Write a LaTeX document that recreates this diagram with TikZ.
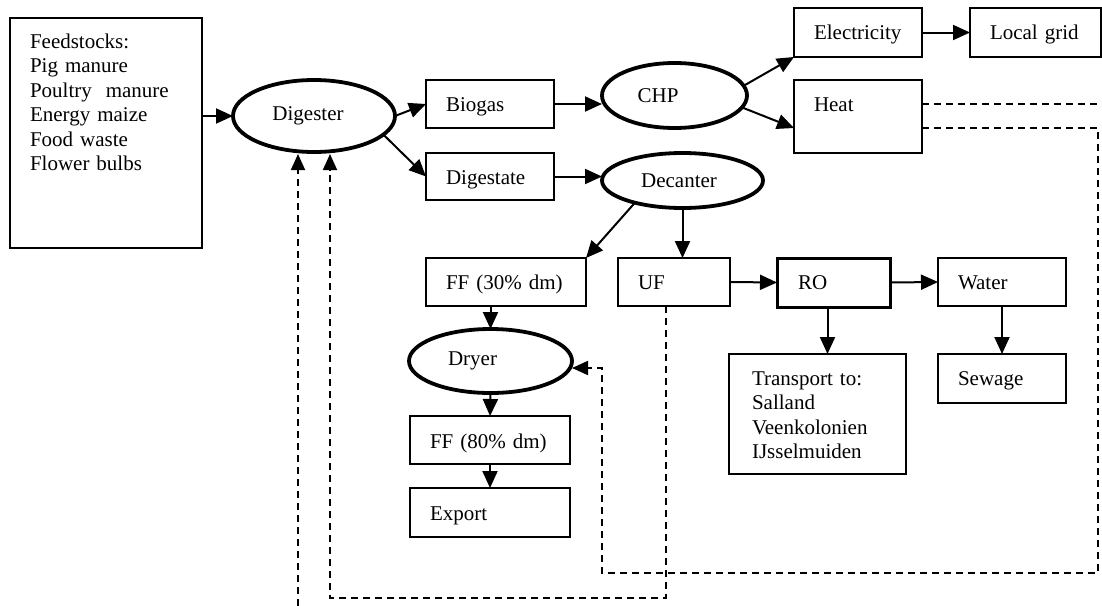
\documentclass[tikz,border=0pt]{standalone}
\usepackage{fontspec}
\setmainfont{Liberation Serif}
\usetikzlibrary{arrows.meta,shapes.geometric,calc}
\begin{document}
\begin{tikzpicture}[x=1pt,y=-1pt,
  font=\fontsize{21}{24.5}\selectfont,
  bx/.style={draw,line width=1.8pt,anchor=north west,inner xsep=20pt,inner ysep=0pt,outer sep=0pt,align=left},
  ov/.style={draw,ellipse,line width=3.8pt,inner sep=0pt,outer sep=0pt},
  arr/.style={line width=2pt,-{Triangle[length=17pt,width=15pt]}},
  dsh/.style={line width=1.8pt,dash pattern=on 7pt off 5pt},
  darr/.style={dsh,-{Triangle[length=16pt,width=14pt]}}]
\useasboundingbox (0,0) rectangle (1102,605);

% boxes
\node[bx,line width=1.4pt,text width=152pt,text height=30pt,text depth=200pt] (feed) at (10,18)
  {Feedstocks:\\Pig manure\\Poultry\ \ manure\\Energy maize\\Food waste\\Flower bulbs};
\node[bx,text width=88pt,text height=31pt,text depth=17pt] (biogas) at (426,80) {Biogas};
\node[bx,text width=88pt,text height=31pt,text depth=16pt] (digestate) at (426,153) {Digestate};
\node[bx,line width=1.1pt,text width=88pt,text height=31pt,text depth=18pt] (elec) at (794,8) {Electricity};
\node[bx,text width=91pt,text height=31pt,text depth=18pt] (grid) at (970,8) {Local grid};
\node[bx,text width=88pt,text height=31pt,text depth=42pt] (heat) at (794,80) {Heat};
\node[bx,text width=120pt,text height=31pt,text depth=17pt] (ff30) at (426,258) {FF (30\% dm)};
\node[bx,text width=72pt,text height=31pt,text depth=17pt] (uf) at (618,258) {UF};
\node[bx,line width=3pt,inner xsep=21pt,text width=71pt,text height=31pt,text depth=18pt] (ro) at (777,258) {RO};
\node[bx,text width=88pt,text height=31pt,text depth=17pt] (water) at (938,258) {Water};
\node[bx,inner xsep=23pt,text width=131pt,text height=31pt,text depth=89pt] (transport) at (729,354)
  {Transport to:\\Salland\\Veenkolonien\\IJsselmuiden};
\node[bx,text width=88pt,text height=31pt,text depth=18pt] (sewage) at (938,354) {Sewage};
\node[bx,text width=120pt,text height=32pt,text depth=16pt] (ff80) at (410,416) {FF (80\% dm)};
\node[bx,text width=120pt,text height=32pt,text depth=17pt] (export) at (410,488) {Export};

% ellipses
\node[ov,minimum width=162pt,minimum height=72pt] (dig) at (314,116) {Digester\hspace*{12pt}};
\node[ov,minimum width=145pt,minimum height=65pt] (chp) at (674.5,95.5) {CHP\hspace*{33pt}};
\node[ov,minimum width=161pt,minimum height=55pt] (dec) at (682.5,180.5) {Decanter\hspace*{7pt}};
\node[ov,minimum width=163pt,minimum height=64pt] (dryer) at (490.5,361) {Dryer\hspace*{36pt}};

% solid connectors
\draw[arr] (feed.east |- dig.west) -- (dig.west);
\draw[arr] (dig.east) -- (biogas.west);
\draw[arr] (dig.-15) -- (digestate.west);
\draw[arr] (biogas.east) -- (biogas.east -| chp.west);
\draw[arr] (digestate.east) -- (digestate.east -| dec.west);
\draw[arr] (chp.8) -- (elec.south west);
\draw[arr] (chp.-10) -- ($(heat.north west)+(0,48)$);
\draw[arr] (elec.east) -- (grid.west);
\draw[arr] (dec.205) -- (ff30.north east);
\draw[arr] (dec.south) -- (dec.south |- uf.north);
\draw[arr] (uf.east) -- (ro.west);
\draw[arr] (ro.east) -- (water.west);
\draw[arr] ([xshift=-6pt]ro.south) -- ([xshift=-6pt]ro.south |- transport.north);
\draw[arr] (water.south) -- (water.south |- sewage.north);
\draw[arr] (dryer.north |- ff30.south) -- (dryer.north);
\draw[arr] (dryer.south) -- (ff80.north);
\draw[arr] (ff80.south) -- (export.north);

% dashed connectors
\coordinate (heatend) at (1097,104);
\coordinate (rc1) at (1098,128);
\coordinate (rc2) at (1098,573);
\coordinate (rc3) at (602,573);
\coordinate (rc4) at (602,368);
\coordinate (uc1) at (666,598);
\coordinate (uc2) at (330,598);
\coordinate (dtip2) at (330,154);
\coordinate (lc1) at (298,606);
\coordinate (dtip1) at (298,154);
\draw[dsh] ($(heat.north east)+(0,24)$) -- (heatend);
\draw[darr] ($(heat.north east)+(0,48)$) -- (rc1) -- (rc2) -- (rc3) -- (rc4) -- (rc4 -| dryer.east);
\draw[darr] (uf.south -| uc1) -- (uc1) -- (uc2) -- (dtip2);
\draw[darr] (lc1) -- (dtip1);
\end{tikzpicture}
\end{document}
